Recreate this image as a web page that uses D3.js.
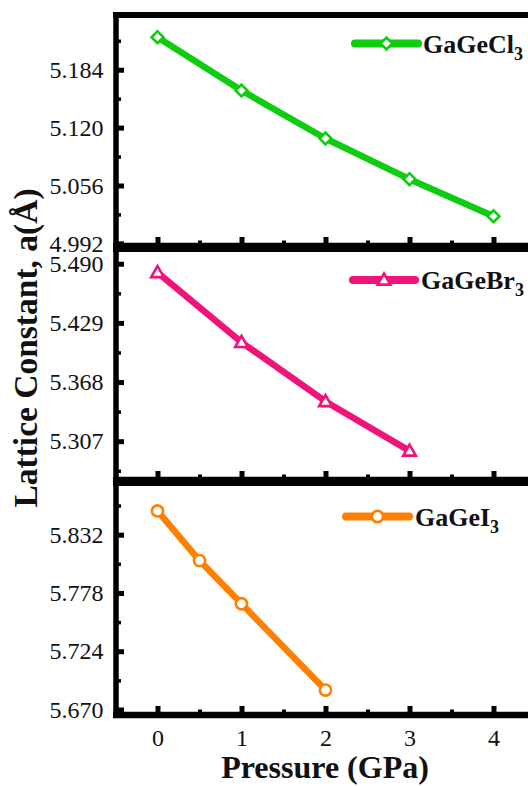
<!DOCTYPE html>
<html><head><meta charset="utf-8">
<script src="https://cdn.jsdelivr.net/npm/d3@7"></script>
<style>body{margin:0;background:#fff}svg{display:block;font-family:"Liberation Serif","Times New Roman",serif}
svg text{font-family:"Liberation Serif","Times New Roman",serif}</style>
</head><body><svg id="c" width="528" height="786"></svg>
<script>
// ---- data ----
const pressureTicks = [0, 1, 2, 3, 4];
const pressureMinor = [0.5, 1.5, 2.5, 3.5];
const xDomain = [-0.5, 4.5];

const clP = [0, 1, 2, 3, 4];
const clA = [5.220, 5.161, 5.108, 5.063, 5.022];
const clTicks = [4.992, 5.056, 5.120, 5.184];
const clMinor = [5.024, 5.088, 5.152, 5.216];
const clDomain = [4.9891, 5.2445];

const brP = [0, 1, 2, 3];
const brA = [5.481, 5.409, 5.348, 5.297];
const brTicks = [5.307, 5.368, 5.429, 5.490];
const brMinor = [5.2765, 5.3375, 5.3985, 5.4595];
const brDomain = [5.267, 5.5052];

const iP = [0, 0.5, 1, 2];
const iA = [5.854, 5.808, 5.768, 5.688];
const iTicks = [5.670, 5.724, 5.778, 5.832];
const iMinor = [5.697, 5.751, 5.805, 5.859];
const iDomain = [5.6649, 5.8799];

const seriesLabels = ["GaGeCl", "GaGeBr", "GaGeI"];
const xTitle = "Pressure (GPa)";
const yTitle = "Lattice Constant, a(Å)";

// ---- layout ----
const svg = d3.select("#c");
const left = 116, right = 536;
const x = d3.scaleLinear().domain(xDomain).range([left - 0.5, right - 0.5]);

const panels = [
  {P: clP, A: clA, ticks: clTicks, minor: clMinor, domain: clDomain, top: 15, bottom: 246,
   color: "#10cc10", symbol: "diamond", label: seriesLabels[0],
   leg: {x1: 355, x2: 418, y: 43.5, tx: 423}},
  {P: brP, A: brA, ticks: brTicks, minor: brMinor, domain: brDomain, top: 249, bottom: 480,
   color: "#f0137a", symbol: "triangle", label: seriesLabels[1],
   leg: {x1: 353, x2: 415, y: 280, tx: 421}},
  {P: iP, A: iA, ticks: iTicks, minor: iMinor, domain: iDomain, top: 483, bottom: 715,
   color: "#ff8000", symbol: "circle", label: seriesLabels[2],
   leg: {x1: 346, x2: 409, y: 516.5, tx: 415}}
];

function drawMarker(g, type, cx, cy, color) {
  if (type === "diamond") {
    g.append("path").attr("d", d3.symbol().type(d3.symbolSquare).size(70)())
      .attr("transform", `translate(${cx},${cy}) rotate(45)`)
      .attr("fill", "#fff").attr("stroke", color).attr("stroke-width", 2.6);
  } else if (type === "triangle") {
    g.append("path").attr("d", d3.symbol().type(d3.symbolTriangle).size(70)())
      .attr("transform", `translate(${cx},${cy + 1})`)
      .attr("fill", "#fff").attr("stroke", color).attr("stroke-width", 2.6);
  } else {
    g.append("circle").attr("cx", cx).attr("cy", cy).attr("r", 5.6)
      .attr("fill", "#fff").attr("stroke", color).attr("stroke-width", 2.6);
  }
}

panels.forEach(p => {
  const y = d3.scaleLinear().domain(p.domain).range([p.bottom, p.top]);
  const g = svg.append("g");

  const pts = p.P.map((v, i) => [v, p.A[i]]);
  g.append("path").datum(pts)
    .attr("d", d3.line().x(d => x(d[0])).y(d => y(d[1])))
    .attr("fill", "none").attr("stroke", p.color).attr("stroke-width", 6.5)
    .attr("stroke-linejoin", "round").attr("stroke-linecap", "round");
  pts.forEach(d => drawMarker(g, p.symbol, x(d[0]), y(d[1]), p.color));

  const yMaj = g.append("g").attr("transform", `translate(${left},0)`)
    .call(d3.axisRight(y).tickValues(p.ticks).tickSize(8).tickFormat(""));
  const yMin = g.append("g").attr("transform", `translate(${left},0)`)
    .call(d3.axisRight(y).tickValues(p.minor).tickSize(5).tickFormat(""));
  [yMaj, yMin].forEach(a => { a.select(".domain").remove(); a.selectAll("line").attr("stroke", "#000").attr("stroke-width", 5); });
  yMin.selectAll("line").attr("stroke-width", 3.5);

  const yLab = g.append("g").attr("transform", `translate(${left},0)`)
    .call(d3.axisLeft(y).tickValues(p.ticks).tickSize(0).tickPadding(12.5).tickFormat(d3.format(".3f")));
  yLab.attr("font-family", null);
  yLab.select(".domain").remove();
  yLab.selectAll("text").attr("font-size", 24).attr("fill", "#111");

  const xMaj = g.append("g").attr("transform", `translate(0,${p.bottom})`)
    .call(d3.axisTop(x).tickValues(pressureTicks).tickSize(9).tickFormat(""));
  const xMin = g.append("g").attr("transform", `translate(0,${p.bottom})`)
    .call(d3.axisTop(x).tickValues(pressureMinor).tickSize(5.5).tickFormat(""));
  [xMaj, xMin].forEach(a => { a.select(".domain").remove(); a.selectAll("line").attr("stroke", "#000").attr("stroke-width", 5); });
  xMin.selectAll("line").attr("stroke-width", 4);

  g.append("line").attr("x1", left - 3).attr("x2", 540).attr("y1", p.top).attr("y2", p.top)
    .attr("stroke", "#000").attr("stroke-width", 6);
  g.append("line").attr("x1", left - 3).attr("x2", 540).attr("y1", p.bottom).attr("y2", p.bottom)
    .attr("stroke", "#000").attr("stroke-width", 6.5);
  g.append("line").attr("x1", left).attr("x2", left).attr("y1", p.top - 3).attr("y2", p.bottom + 3)
    .attr("stroke", "#000").attr("stroke-width", 5.5);

  const L = p.leg;
  g.append("line").attr("x1", L.x1).attr("x2", L.x2).attr("y1", L.y).attr("y2", L.y)
    .attr("stroke", p.color).attr("stroke-width", 8).attr("stroke-linecap", "round");
  drawMarker(g, p.symbol, (L.x1 + L.x2) / 2, L.y, p.color);
  const t = g.append("text").attr("x", L.tx).attr("y", L.y + 9)
    .attr("font-weight", "bold").attr("font-size", 26).attr("fill", "#111");
  t.append("tspan").text(p.label);
  t.append("tspan").attr("font-size", 18).attr("dy", 7).text("3");
});

const xLab = svg.append("g").attr("transform", `translate(0,715)`)
  .call(d3.axisBottom(x).tickValues(pressureTicks).tickSize(0).tickPadding(14).tickFormat(d3.format("d")));
xLab.attr("font-family", null);
xLab.select(".domain").remove();
xLab.selectAll("text").attr("font-size", 24).attr("fill", "#111");

svg.append("text").attr("x", 325).attr("y", 778).attr("text-anchor", "middle")
  .attr("font-weight", "bold").attr("font-size", 32).attr("fill", "#111")
  .text(xTitle);
svg.append("text").attr("transform", "translate(37,348) rotate(-90)").attr("text-anchor", "middle")
  .attr("font-weight", "bold").attr("font-size", 33.5).attr("fill", "#111")
  .text(yTitle);
</script></body></html>
